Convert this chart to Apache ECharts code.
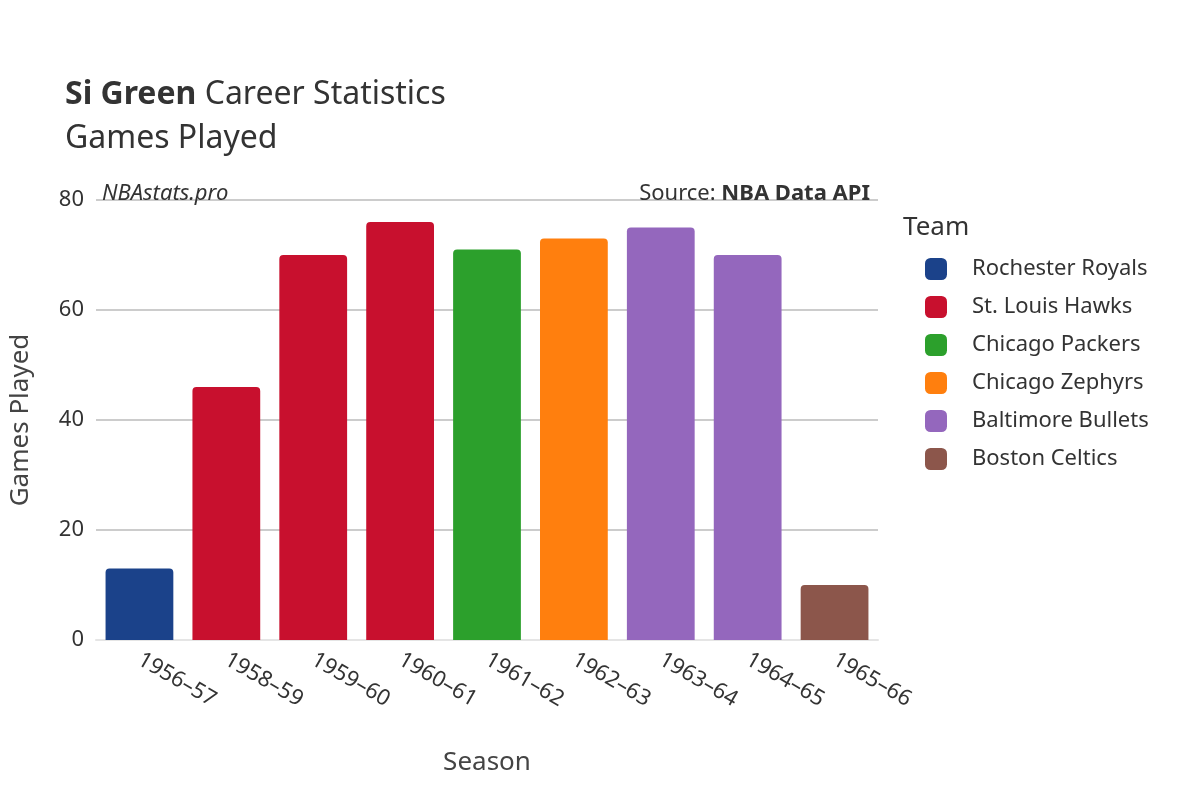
<!DOCTYPE html>
<html>
<head>
<meta charset="utf-8">
<script src="https://cdn.jsdelivr.net/npm/echarts@6/dist/echarts.min.js"></script>
<style>html,body{margin:0;padding:0;background:#fff}#chart{width:1200px;height:800px}</style>
</head>
<body>
<div id="chart"></div>
<script>
var seasons = ['1956–57', '1958–59', '1959–60', '1960–61', '1961–62', '1962–63', '1963–64', '1964–65', '1965–66'];
var games = [13, 46, 70, 76, 71, 73, 75, 70, 10];
var seasonTeam = ['Rochester Royals', 'St. Louis Hawks', 'St. Louis Hawks', 'St. Louis Hawks', 'Chicago Packers',
    'Chicago Zephyrs', 'Baltimore Bullets', 'Baltimore Bullets', 'Boston Celtics'];
var teams = ['Rochester Royals', 'St. Louis Hawks', 'Chicago Packers', 'Chicago Zephyrs', 'Baltimore Bullets', 'Boston Celtics'];
var teamColors = ['#1b428a', '#c8102e', '#2ca02c', '#ff7f0e', '#9467bd', '#8c564b'];
var yTicks = [0, 20, 40, 60, 80];

var font = 'Noto Sans, DejaVu Sans, sans-serif';
var chart = echarts.init(document.getElementById('chart'));

var series = teams.map(function (team, t) {
    return {
        name: team,
        type: 'bar',
        stack: 'gp',
        barCategoryGap: '22%',
        itemStyle: {color: teamColors[t], borderRadius: [4, 4, 0, 0]},
        data: games.map(function (g, i) { return seasonTeam[i] === team ? g : null; })
    };
});

chart.setOption({
    animation: false,
    textStyle: {fontFamily: font},
    color: teamColors,
    title: [{
        left: 60, top: 68,
        text: '{b|Si Green} Career Statistics\nGames Played',
        textStyle: {fontSize: 32, color: '#333', fontWeight: 'normal', lineHeight: 44,
            rich: {b: {fontSize: 32, fontWeight: 'bold', color: '#333'}}}
    }, {
        left: 97, top: 178, text: 'NBAstats.pro',
        textStyle: {fontSize: 22, fontStyle: 'italic', fontWeight: 'normal', color: '#333'}
    }, {
        right: 325, top: 178, text: 'Source: {b|NBA Data API}',
        textStyle: {fontSize: 22, fontWeight: 'normal', color: '#333',
            rich: {b: {fontSize: 22, fontWeight: 'bold', color: '#333'}}}
    }, {
        left: 898, top: 210, text: 'Team',
        textStyle: {fontSize: 26, fontWeight: 'normal', color: '#333'}
    }],
    legend: {
        orient: 'vertical', left: 920, top: 253,
        icon: 'roundRect', itemWidth: 22, itemHeight: 22, itemGap: 16,
        textStyle: {fontSize: 22, color: '#333', padding: [0, 0, 0, 20]},
        data: teams
    },
    grid: {left: 95, right: 322, top: 200, bottom: 160},
    xAxis: {
        type: 'category', data: seasons,
        name: 'Season', nameLocation: 'middle', nameGap: 110,
        nameTextStyle: {fontSize: 26, color: '#444'},
        axisLine: {lineStyle: {color: '#e5e5e5', width: 2}},
        axisTick: {show: false},
        axisLabel: {rotate: -30, fontSize: 22, color: '#333', margin: 18}
    },
    yAxis: {
        type: 'value', min: 0, max: 80, interval: 20,
        name: 'Games Played', nameLocation: 'middle', nameGap: 62,
        nameTextStyle: {fontSize: 26, color: '#444'},
        axisLabel: {fontSize: 22, color: '#333', margin: 12},
        splitLine: {lineStyle: {color: '#bbb', width: 1.5}}
    },
    series: series
});
</script>
</body>
</html>
